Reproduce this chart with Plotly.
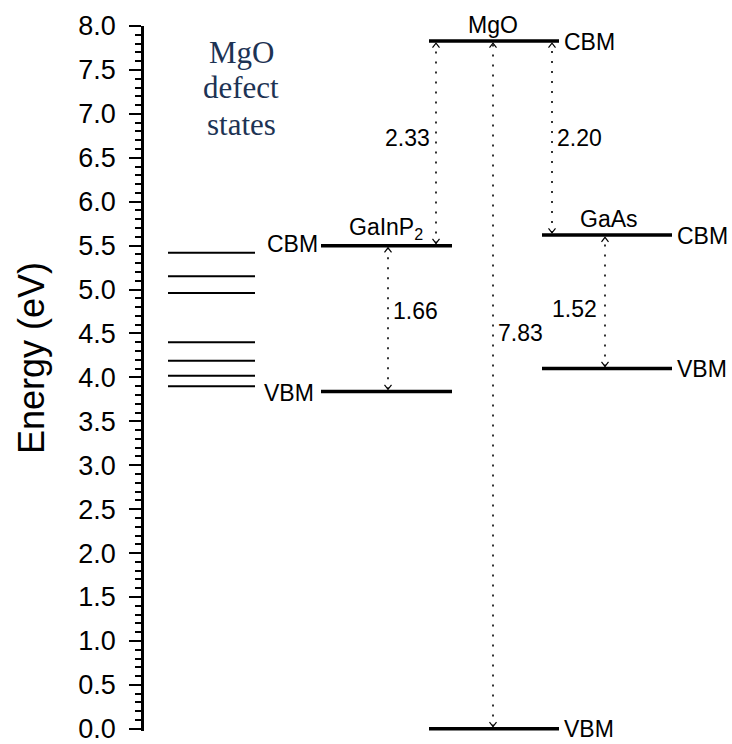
import plotly.graph_objects as go

# ---------------- data ----------------
defect_levels = [5.42, 5.15, 4.96, 4.40, 4.19, 4.02, 3.90]   # MgO defect states (eV)
materials = ["GaInP<sub>2</sub>", "MgO", "GaAs"]
cbm = [5.50, 7.83, 5.62]      # conduction band minimum (eV)
vbm = [3.84, 0.00, 4.10]      # valence band maximum (eV)
gap_labels = ["1.66", "7.83", "1.52"]
offset_labels = ["2.33", "2.20"]   # MgO CBM -> GaInP2 CBM, MgO CBM -> GaAs CBM
y_title = "Energy (eV)"
defect_title = ["MgO", "defect", "states"]

# ---------------- layout / positions (x in page pixels) ----------------
W, H = 732, 744
ML, MT, MB = 144, 26, 10
Y0, Y1 = -0.025, 8.0
PX_PER_EV = (H - MT - MB) / (Y1 - Y0)

defect_x = (168, 255)
col_x = [(321, 452), (429, 559), (542, 672)]
gap_arrow_x = [388, 493, 605]
offset_arrow_x = [436, 552]          # from MgO CBM down to GaInP2 / GaAs CBM
offset_target = [0, 2]
gap_label_y = [4.76, 4.50, 4.78]
offset_label_y = [6.73, 6.73]
name_center_x = [386, 493, 609]
band_label_side = ["left", "right", "right"]
defect_title_x = 241
defect_title_y = [7.70, 7.295, 6.875]

FONT = "Liberation Sans, Arial, sans-serif"
SERIF = "Liberation Serif, Times New Roman, serif"
NAVY = "#1d3354"

fig = go.Figure()

# defect states
xs, ys = [], []
for e in defect_levels:
    xs += [defect_x[0], defect_x[1], None]
    ys += [e, e, None]
fig.add_trace(go.Scatter(x=xs, y=ys, mode="lines",
                         line=dict(color="black", width=2),
                         hoverinfo="skip", showlegend=False))

# band edges
xs, ys = [], []
for (x0, x1), c, v in zip(col_x, cbm, vbm):
    xs += [x0, x1, None, x0, x1, None]
    ys += [c, c, None, v, v, None]
fig.add_trace(go.Scatter(x=xs, y=ys, mode="lines",
                         line=dict(color="black", width=3.5),
                         hoverinfo="skip", showlegend=False, cliponaxis=False))

# arrows (dotted shaft + open chevron heads)
half_t = 2.2 / PX_PER_EV
head_h = 4.5 / PX_PER_EV
head_w = 3.5

arrows = []
for x, c, v in zip(gap_arrow_x, cbm, vbm):
    arrows.append((x, v, c))
for x, t in zip(offset_arrow_x, offset_target):
    arrows.append((x, cbm[t], cbm[1]))

sx, sy, hx, hy = [], [], [], []
for x, lo, hi in arrows:
    top = hi - half_t
    bot = lo + half_t
    sx += [x, x, None]
    sy += [bot, top, None]
    hx += [x - head_w, x, x + head_w, None, x - head_w, x, x + head_w, None]
    hy += [top - head_h, top, top - head_h, None, bot + head_h, bot, bot + head_h, None]

fig.add_trace(go.Scatter(x=sx, y=sy, mode="lines",
                         line=dict(color="black", width=1.6, dash="2px,8px"),
                         hoverinfo="skip", showlegend=False))
fig.add_trace(go.Scatter(x=hx, y=hy, mode="lines",
                         line=dict(color="black", width=1.2),
                         hoverinfo="skip", showlegend=False, cliponaxis=False))

ann = []
# gap labels
for i, (x, lab) in enumerate(zip(gap_arrow_x, gap_labels)):
    if i == 2:
        ann.append(dict(x=x - 6, y=gap_label_y[i], text=lab, xanchor="right"))
    else:
        ann.append(dict(x=x + 3, y=gap_label_y[i], text=lab, xanchor="left"))
# offset labels
ann.append(dict(x=offset_arrow_x[0] - 4, y=offset_label_y[0], text=offset_labels[0], xanchor="right"))
ann.append(dict(x=offset_arrow_x[1] + 3, y=offset_label_y[1], text=offset_labels[1], xanchor="left"))

# material names and CBM / VBM labels
for i, name in enumerate(materials):
    ann.append(dict(x=name_center_x[i], y=cbm[i], text=name, xanchor="center",
                    yanchor="bottom", yshift=1))
    x0, x1 = col_x[i]
    if band_label_side[i] == "left":
        ann.append(dict(x=x0 - 1, y=cbm[i], text="CBM", xanchor="right", yshift=2))
        ann.append(dict(x=x0 - 5, y=vbm[i], text="VBM", xanchor="right", yshift=-2))
    else:
        ann.append(dict(x=x1 + 3, y=cbm[i], text="CBM", xanchor="left", yshift=-1))
        ann.append(dict(x=x1 + 3, y=vbm[i], text="VBM", xanchor="left", yshift=0))

for a in ann:
    a.update(xref="x", yref="y", showarrow=False,
             font=dict(family=FONT, size=23, color="black"))
    a.setdefault("yanchor", "middle")

# defect states title (one annotation per line for tight spacing)
for line, yy in zip(defect_title, defect_title_y):
    ann.append(dict(x=defect_title_x, y=yy, xref="x", yref="y", text=line, showarrow=False,
                    xanchor="center", yanchor="middle",
                    font=dict(family=SERIF, size=31, color=NAVY)))
# y axis title
ann.append(dict(x=(31 - ML) / (W - ML), y=4.22, xref="paper", yref="y", text=y_title,
                showarrow=False, textangle=-90, xanchor="center", yanchor="middle",
                font=dict(family=FONT, size=36, color="black")))

fig.update_layout(
    width=W, height=H,
    margin=dict(l=ML, r=0, t=MT, b=MB, pad=0),
    plot_bgcolor="white", paper_bgcolor="white",
    annotations=ann,
    showlegend=False,
    xaxis=dict(visible=False, range=[ML, W], fixedrange=True),
    yaxis=dict(range=[Y0, Y1], showgrid=False, zeroline=False,
               showline=True, linecolor="black", linewidth=2.5,
               ticks="outside", ticklen=12, tickwidth=2, tickcolor="black",
               tick0=0, dtick=0.5, tickformat=".1f",
               ticklabelstandoff=8, ticklabeloverflow="allow",
               tickfont=dict(family=FONT, size=27, color="black"),
               minor=dict(ticks="outside", ticklen=6, tickwidth=1.5,
                          tickcolor="black", dtick=0.1, tick0=0, showgrid=False),
               fixedrange=True),
)

fig.write_html("out.html", config={"displayModeBar": False},
               post_script="document.body.style.margin='0';")
